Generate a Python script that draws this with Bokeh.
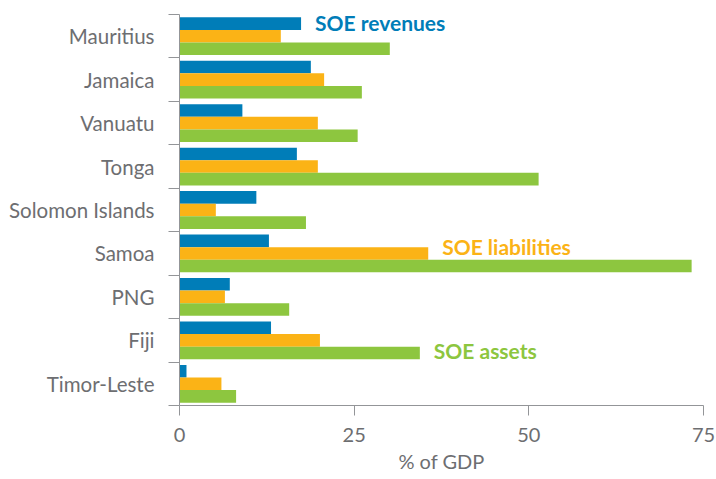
from bokeh.plotting import figure
from bokeh.models import Range1d, FixedTicker, CustomJSTickFormatter, Label
from bokeh.embed import file_html
from bokeh.resources import INLINE

countries = ["Mauritius", "Jamaica", "Vanuatu", "Tonga", "Solomon Islands",
             "Samoa", "PNG", "Fiji", "Timor-Leste"]
soe_revenues = [17.4, 18.8, 9.0, 16.8, 11.0, 12.8, 7.2, 13.1, 1.0]
soe_liabilities = [14.5, 20.7, 19.8, 19.8, 5.2, 35.6, 6.5, 20.1, 6.0]
soe_assets = [30.1, 26.1, 25.5, 51.4, 18.1, 73.3, 15.7, 34.4, 8.1]
x_ticks = [0, 25, 50, 75]
x_title = "% of GDP"

BLUE = "#007db8"
ORANGE = "#fbb316"
GREEN = "#8dc63f"
AXIS = "#939598"
TEXT = "#6d6e71"
FONT = "Lato"

n = len(countries)
ypos = [n - 1 - i for i in range(n)]
bar_h = 0.29

p = figure(width=716, height=479, output_backend="svg", toolbar_location=None,
           x_range=Range1d(x_ticks[0], x_ticks[-1]), y_range=Range1d(-0.5, n - 0.5),
           min_border_left=179, min_border_right=13, min_border_top=14,
           min_border_bottom=74)
p.outline_line_color = None
p.xgrid.visible = False
p.ygrid.visible = False

p.hbar(y=[y + bar_h for y in ypos], right=soe_revenues, left=0, height=bar_h,
       fill_color=BLUE, line_color=None)
p.hbar(y=ypos, right=soe_liabilities, left=0, height=bar_h,
       fill_color=ORANGE, line_color=None)
p.hbar(y=[y - bar_h for y in ypos], right=soe_assets, left=0, height=bar_h,
       fill_color=GREEN, line_color=None)

# x axis
xa = p.xaxis[0]
xa.ticker = FixedTicker(ticks=x_ticks)
xa.axis_line_color = AXIS
xa.major_tick_line_color = AXIS
xa.major_tick_out = 10
xa.major_tick_in = 0
xa.minor_tick_line_color = None
xa.major_label_text_font = FONT
xa.major_label_text_font_size = "20px"
xa.major_label_text_color = TEXT
xa.major_label_standoff = 12
xa.axis_label = x_title
xa.axis_label_text_font = FONT
xa.axis_label_text_font_size = "20px"
xa.axis_label_text_font_style = "normal"
xa.axis_label_text_color = TEXT
xa.axis_label_standoff = 4

# y axis: labels at category centres, tick marks at boundaries
ya = p.yaxis[0]
ya.ticker = FixedTicker(ticks=ypos, minor_ticks=[k - 0.5 for k in range(n + 1)])
ya.formatter = CustomJSTickFormatter(args=dict(names=countries[::-1]),
                                     code="return names[Math.round(tick)] || '';")
ya.axis_line_color = AXIS
ya.major_tick_line_color = None
ya.major_tick_out = 0
ya.major_tick_in = 0
ya.minor_tick_line_color = AXIS
ya.minor_tick_out = 11
ya.minor_tick_in = 0
ya.major_label_text_font = FONT
ya.major_label_text_font_size = "20.5px"
ya.major_label_text_color = TEXT
ya.major_label_standoff = 14

lab_rev = Label(x=soe_revenues[0] + 2, y=ypos[0] + bar_h, text="SOE revenues",
                text_baseline="middle", text_font=FONT, text_font_size="21px",
                text_font_style="bold", text_color=BLUE, y_offset=1)
lab_lia = Label(x=soe_liabilities[5] + 2, y=ypos[5], text="SOE liabilities",
                text_baseline="middle", text_font=FONT, text_font_size="21px",
                text_font_style="bold", text_color=ORANGE, y_offset=7)
lab_ass = Label(x=soe_assets[7] + 2, y=ypos[7] - bar_h, text="SOE assets",
                text_baseline="middle", text_font=FONT, text_font_size="21px",
                text_font_style="bold", text_color=GREEN, y_offset=2.5)
for lab in (lab_rev, lab_lia, lab_ass):
    p.add_layout(lab)

open("out.html", "w").write(file_html(p, INLINE))
